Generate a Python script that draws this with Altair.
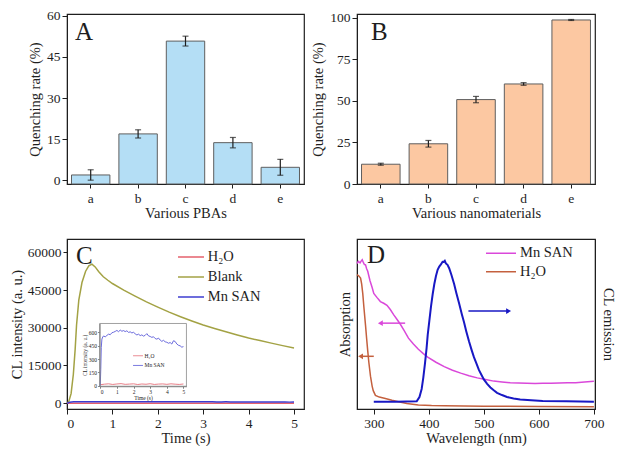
import altair as alt
import pandas as pd

FONT = "Liberation Serif"
INK = "#1e1e1e"

# ---------------- data ----------------
# Panel A
pba_labels = ["a", "b", "c", "d", "e"]
pba_rate = [1.9, 16.9, 50.8, 13.7, 4.7]
pba_err = [1.9, 1.5, 1.8, 1.9, 2.9]

# Panel B
nano_labels = ["a", "b", "c", "d", "e"]
nano_rate = [11.9, 24.2, 50.8, 60.2, 98.7]
nano_err = [0.6, 2.0, 1.9, 0.8, 0.3]

# Panel C (main)
blank_t = [0, 0.04, 0.09, 0.14, 0.18, 0.21, 0.26, 0.33, 0.41, 0.48, 0.55, 0.62, 0.7, 0.8,
           0.9, 1.0, 1.25, 1.5, 1.75, 2.0, 2.25, 2.5, 2.75, 3.0, 3.25, 3.5, 3.75, 4.0,
           4.25, 4.5, 4.75, 5.0]
blank_i = [0, 700, 3800, 11500, 21500, 31000, 41000, 48000, 52500, 54600, 55300, 54200,
           52300, 50300, 48900, 47600, 45000, 42600, 40300, 38200, 36200, 34400, 32700,
           31100, 29700, 28400, 27100, 25900, 24900, 23900, 22900, 22000]

mnsan_t = [0, 0.03, 0.06, 0.1, 0.15, 0.2, 0.3, 0.4, 0.5, 0.6, 0.7, 0.8, 0.9, 1.0,
           1.1, 1.2, 1.3, 1.4, 1.5, 1.6, 1.7, 1.8, 1.9, 2.0, 2.1, 2.2, 2.3, 2.4, 2.5,
           2.6, 2.7, 2.8, 2.9, 3.0, 3.1, 3.2, 3.3, 3.4, 3.5, 3.6, 3.7, 3.8, 3.9, 4.0,
           4.1, 4.2, 4.3, 4.4, 4.5, 4.6, 4.7, 4.8, 4.9, 5.0]
mnsan_i = [0, 180, 430, 525, 548, 560, 550, 566, 580, 574, 596, 602, 611, 622,
           608, 626, 613, 620, 609, 618, 600, 606, 594, 601, 584, 571, 580, 564, 572,
           558, 567, 586, 561, 554, 544, 551, 531, 524, 536, 514, 499, 511, 494, 489,
           478, 486, 469, 506, 498, 470, 455, 449, 434, 440]

water_t = [0, 0.25, 0.5, 0.75, 1.0, 1.25, 1.5, 1.75, 2.0, 2.25, 2.5, 2.75, 3.0, 3.25,
           3.5, 3.75, 4.0, 4.25, 4.5, 4.75, 5.0]
water_i = [12, 18, 22, 15, 20, 24, 16, 19, 22, 14, 20, 17, 23, 15, 19, 21, 16, 22, 18, 15, 20]

c_series = ["H₂O", "Blank", "Mn SAN"]
c_colors = ["#e5606c", "#a3a244", "#3c3cd0"]
inset_series = ["H₂O", "Mn SAN"]
inset_colors = ["#e5707a", "#5a5ad8"]

# Panel D
mn_abs_wl = [269.5, 272, 275, 277, 279, 281, 283, 285, 287, 289, 293, 297, 300, 306, 312,
             318, 324, 330, 336, 342, 348, 355, 363, 372, 381, 390, 398, 413, 428, 443,
             458, 473, 488, 503, 518, 533, 548, 563, 578, 593, 607, 622, 637, 652, 667,
             683, 700]
mn_abs = [85.6, 86.8, 86.0, 87.0, 87.8, 86.2, 85.0, 84.8, 82.5, 81.0, 75.6, 71.5, 68.0,
          65.5, 63.2, 62.2, 61.0, 58.5, 55.5, 52.8, 50.0, 46.2, 41.7, 38.2, 35.1, 32.6,
          30.5, 27.5, 24.9, 22.8, 21.1, 19.6, 18.3, 17.3, 16.4, 15.9, 15.5, 15.3, 15.1,
          15.0, 15.1, 15.2, 15.3, 15.4, 15.5, 15.9, 16.3]

water_abs_wl = [269.5, 273, 276, 278, 280, 282, 285, 287, 289, 291, 294, 297, 299, 303,
                310, 321, 333, 345, 360, 381, 405, 428, 500, 600, 700]
water_abs = [79.0, 78.2, 77.0, 73.5, 67.9, 60.0, 49.2, 41.5, 34.2, 27.5, 19.3, 13.5, 10.8,
             8.0, 7.0, 6.2, 5.2, 4.3, 3.3, 2.4, 2.0, 1.9, 1.6, 1.5, 1.3]

em_wl = [300, 340, 378, 383, 387, 390, 393, 396, 398, 401, 404, 407, 410, 413, 416, 419,
         422, 425, 427, 429, 431, 434, 437, 441, 446, 450, 455, 460, 464, 468, 473, 478,
         482, 487, 491, 496, 500, 506, 512, 518, 524, 533, 542, 554, 566, 586, 607, 650, 700]
em = [4.3, 4.3, 4.5, 7.0, 11.8, 18.5, 26.7, 36.0, 43.6, 52.0, 60.4, 67.5, 73.5, 78.2,
      81.9, 83.8, 85.0, 86.6, 86.5, 87.2, 85.6, 84.8, 82.8, 79.0, 73.5, 68.3, 62.2, 55.8,
      51.0, 45.8, 39.8, 34.5, 30.5, 26.4, 23.0, 19.9, 17.4, 14.8, 12.7, 11.0, 9.5, 8.2,
      7.1, 6.2, 5.6, 5.1, 4.7, 4.5, 4.3]

d_series = ["Mn SAN", "H₂O"]
d_colors = ["#da48da", "#c4603e"]
EM_COLOR = "#1818c4"

# arrows (wavelength from tail to head, level in absorption units)
arrow_color = ["#da48da", "#c4603e", "#1818c4"]
arrow_tail = [357, 300, 472]
arrow_head = [312, 276, 545]
arrow_level = [50.5, 31.0, 57.6]
arrow_shape = ["triangle-left", "triangle-left", "triangle-right"]

# axis domains
A_DOM = [-1.4, 60.7]
B_DOM = [0, 102.3]
C_T_DOM = [0, 5.22]
C_I_DOM = [-2300, 65300]
INSET_T_DOM = [-0.04, 5.18]
INSET_I_DOM = [-5, 700]
D_WL_DOM = [269.5, 702]
D_Y_DOM = [0, 100]

# ---------------- layout constants ----------------
W1, W2 = 237, 238
H1, H2 = 170, 170


def letter(txt, x, y):
    return alt.Chart(pd.DataFrame({"label": [txt]})).mark_text(
        font=FONT, fontSize=25, align="left", baseline="alphabetic", color=INK
    ).encode(x=alt.value(x), y=alt.value(y), text="label:N")


def bar_panel(cats, rate, err, fill, ydom, yticks, xtitle, base, w, h, tag, lx):
    df = pd.DataFrame({
        "cat": cats,
        "rate": rate,
        "lo": [r - e for r, e in zip(rate, err)],
        "hi": [r + e for r, e in zip(rate, err)],
    })
    xaxis = alt.Axis(title=xtitle, labelAngle=0, tickSize=4, labelPadding=3, titlePadding=2)
    xsc = alt.Scale(paddingInner=0.19, paddingOuter=0.095)
    ysc = alt.Scale(domain=ydom, nice=False, zero=False)
    yaxis = alt.Axis(title="Quenching rate (%)", values=yticks, tickSize=5,
                     labelPadding=2, titlePadding=4)

    def X():
        return alt.X("cat:N", sort=cats, scale=xsc, axis=xaxis)

    bars = alt.Chart(df).mark_bar(fill=fill, stroke="#5e5e5e", strokeWidth=1).encode(
        x=X(), y=alt.Y("rate:Q", scale=ysc, axis=yaxis), y2=alt.datum(base))
    rules = alt.Chart(df).mark_rule(color=INK, strokeWidth=1.2).encode(
        x=X(), y=alt.Y("lo:Q", scale=ysc, axis=yaxis), y2="hi:Q")
    cap_lo = alt.Chart(df).mark_tick(color=INK, size=6, thickness=1.2).encode(
        x=X(), y=alt.Y("lo:Q", scale=ysc, axis=yaxis))
    cap_hi = alt.Chart(df).mark_tick(color=INK, size=6, thickness=1.2).encode(
        x=X(), y=alt.Y("hi:Q", scale=ysc, axis=yaxis))
    return alt.layer(bars, rules, cap_lo, cap_hi, letter(tag, lx, 26)).properties(
        width=w, height=h)


chartA = bar_panel(pba_labels, pba_rate, pba_err, "#b4def5", A_DOM, [0, 15, 30, 45, 60],
                   "Various PBAs", A_DOM[0], W1, H1, "A", 8)
chartB = bar_panel(nano_labels, nano_rate, nano_err, "#fcc8a2", B_DOM, [0, 25, 50, 75, 100],
                   "Various nanomaterials", 0, W2, H1, "B", 14)

# ---------------- Panel C ----------------
dfC = pd.DataFrame({
    "series": ["Blank"] * len(blank_t) + ["H₂O"] * len(water_t) + ["Mn SAN"] * len(mnsan_t),
    "t": blank_t + water_t + mnsan_t,
    "value": blank_i + water_i + mnsan_i,
})
c_xsc = alt.Scale(domain=C_T_DOM, nice=False, zero=False)
c_ysc = alt.Scale(domain=C_I_DOM, nice=False, zero=False)
c_main = alt.Chart(dfC).mark_line(strokeWidth=1.5).encode(
    x=alt.X("t:Q", scale=c_xsc, axis=alt.Axis(values=[0, 1, 2, 3, 4, 5], format="d",
            title="Time (s)", tickSize=5, labelPadding=2, titlePadding=2)),
    y=alt.Y("value:Q", scale=c_ysc, axis=alt.Axis(values=[0, 15000, 30000, 45000, 60000],
            format="d", title="CL intensity (a. u.)", tickSize=4, labelPadding=2,
            titlePadding=3)),
    color=alt.Color("series:N", scale=alt.Scale(domain=c_series, range=c_colors),
                    legend=alt.Legend(orient="none", legendX=116.75, legendY=10.75,
                                      title=None, symbolType="M-3,0H3", symbolSize=75,
                                      symbolStrokeWidth=1.5, labelOffset=9.5, rowPadding=5,
                                      labelFont=FONT, labelFontSize=14.5, labelColor=INK,
                                      padding=0)),
)

xi0, xi1 = 0.1375 * W1, 0.504 * W1
yi_top, yi_bot = 0.497 * H2, 0.866 * H2
i_xsc = alt.Scale(domain=INSET_T_DOM, range=[xi0, xi1], nice=False, zero=False)
i_ysc = alt.Scale(domain=INSET_I_DOM, range=[yi_bot, yi_top], nice=False, zero=False)
i_xaxis = alt.Axis(orient="bottom", offset=yi_bot - H2, values=[0, 1, 2, 3, 4, 5],
                   format="d", title="Time (s)", labelFontSize=5.5, titleFontSize=5.5,
                   tickSize=2, labelPadding=1, titlePadding=1, domainColor="#808080",
                   tickColor="#808080", zindex=1)
i_yaxis = alt.Axis(orient="left", offset=-xi0, values=[0, 150, 300, 450, 600], format="d",
                   title="CL intensity (a. u.)", labelFontSize=5.5, titleFontSize=5.5,
                   tickSize=2, labelPadding=1, titlePadding=1, domainColor="#808080",
                   tickColor="#808080", zindex=1)
frame_df = pd.DataFrame({"t0": [INSET_T_DOM[0]], "t1": [INSET_T_DOM[1]],
                         "i0": [INSET_I_DOM[0]], "i1": [INSET_I_DOM[1]]})
inset_frame = alt.Chart(frame_df).mark_rect(fill="white", stroke="#8a8a8a",
                                            strokeWidth=0.8).encode(
    x=alt.X("t0:Q", scale=i_xsc, axis=i_xaxis), x2="t1:Q",
    y=alt.Y("i0:Q", scale=i_ysc, axis=i_yaxis), y2="i1:Q")
dfI = pd.DataFrame({
    "series": ["H₂O"] * len(water_t) + ["Mn SAN"] * len(mnsan_t),
    "t": water_t + mnsan_t,
    "value": water_i + mnsan_i,
})
inset_lines = alt.Chart(dfI).mark_line(strokeWidth=0.9).encode(
    x=alt.X("t:Q", scale=i_xsc, axis=i_xaxis),
    y=alt.Y("value:Q", scale=i_ysc, axis=i_yaxis),
    color=alt.Color("series:N", scale=alt.Scale(domain=inset_series, range=inset_colors),
                    legend=alt.Legend(orient="none", legendX=68.25, legendY=114,
                                      title=None, symbolType="M-3,0H3", symbolSize=11,
                                      symbolStrokeWidth=0.8, labelOffset=3.75,
                                      rowPadding=2.7, labelFont=FONT, labelFontSize=5.5,
                                      labelColor=INK, padding=0)),
)
chartC = alt.layer(
    alt.layer(c_main, letter("C", 9, 25)),
    alt.layer(inset_frame, inset_lines),
).resolve_scale(x="independent", y="independent", color="independent").properties(
    width=W1, height=H2)

# ---------------- Panel D ----------------
d_xsc = alt.Scale(domain=D_WL_DOM, nice=False, zero=False)
d_xaxis = alt.Axis(values=[300, 400, 500, 600, 700], format="d", title="Wavelength (nm)",
                   tickSize=5, labelPadding=2, titlePadding=2)
d_ysc = alt.Scale(domain=D_Y_DOM, nice=False, zero=False)
abs_axis = alt.Axis(title="Absorption", labels=False, ticks=False, titlePadding=5)
em_axis = alt.Axis(orient="right", title="CL emission", labels=False, ticks=False,
                   titlePadding=5)

dfAbs = pd.DataFrame({
    "series": ["Mn SAN"] * len(mn_abs_wl) + ["H₂O"] * len(water_abs_wl),
    "wl": mn_abs_wl + water_abs_wl,
    "value": mn_abs + water_abs,
})
abs_lines = alt.Chart(dfAbs).mark_line(strokeWidth=1.5).encode(
    x=alt.X("wl:Q", scale=d_xsc, axis=d_xaxis),
    y=alt.Y("value:Q", scale=d_ysc, axis=abs_axis),
    color=alt.Color("series:N", scale=alt.Scale(domain=d_series, range=d_colors),
                    legend=alt.Legend(orient="none", legendX=136.75, legendY=7,
                                      title=None, symbolType="M-3,0H3", symbolSize=100,
                                      symbolStrokeWidth=1.5, labelOffset=11.75,
                                      rowPadding=3.5, labelFont=FONT, labelFontSize=14.5,
                                      labelColor=INK, padding=0)),
)


def arrow(i, axis):
    df = pd.DataFrame({"tail": [arrow_tail[i]], "head": [arrow_head[i]],
                       "level": [arrow_level[i]]})
    shaft = alt.Chart(df).mark_rule(color=arrow_color[i], strokeWidth=1.5).encode(
        x=alt.X("tail:Q", scale=d_xsc, axis=d_xaxis), x2="head:Q",
        y=alt.Y("level:Q", scale=d_ysc, axis=axis))
    tip = alt.Chart(df).mark_point(shape=arrow_shape[i], filled=True, size=32, opacity=1,
                                   color=arrow_color[i]).encode(
        x=alt.X("head:Q", scale=d_xsc, axis=d_xaxis),
        y=alt.Y("level:Q", scale=d_ysc, axis=axis))
    return [shaft, tip]


dfEm = pd.DataFrame({"wl": em_wl, "value": em})
em_line = alt.Chart(dfEm).mark_line(color=EM_COLOR, strokeWidth=2).encode(
    x=alt.X("wl:Q", scale=d_xsc, axis=d_xaxis),
    y=alt.Y("value:Q", scale=d_ysc, axis=em_axis))

abs_layer = alt.layer(abs_lines, *arrow(0, abs_axis), *arrow(1, abs_axis), letter("D", 10, 24))
em_layer = alt.layer(em_line, *arrow(2, em_axis))
chartD = alt.layer(abs_layer, em_layer).resolve_scale(y="independent").properties(
    width=W2, height=H2)

# ---------------- assemble ----------------
chart = alt.concat(
    chartA, chartB, chartC, chartD, columns=2,
    spacing={"row": 55, "column": 53}, bounds="flush",
).resolve_scale(color="independent").properties(
    padding={"left": 0, "top": 0, "right": 0, "bottom": 0}
).configure_axis(
    labelFont=FONT, titleFont=FONT, labelFontSize=13.5, titleFontSize=14.5,
    titleFontWeight="normal", labelColor=INK, titleColor=INK, domainColor=INK,
    tickColor=INK, grid=False,
).configure_view(stroke=INK, strokeWidth=1.2)

chart.save("out.html", embed_options={"renderer": "svg", "actions": False})
